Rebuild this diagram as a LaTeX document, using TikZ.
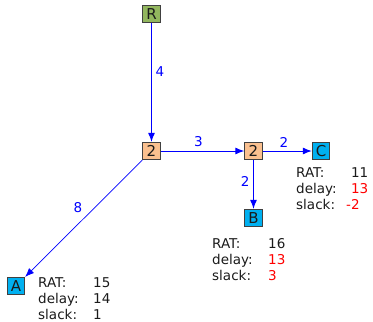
\documentclass[tikz,border=0pt]{standalone}
\usepackage{fontspec}
\setmainfont{DejaVu Sans}
\usetikzlibrary{arrows.meta}
\definecolor{rootgreen}{RGB}{146,182,94}
\definecolor{gateorange}{RGB}{250,192,143}
\definecolor{sinkblue}{RGB}{0,176,240}
\definecolor{boxline}{RGB}{64,64,64}
\definecolor{textgray}{RGB}{26,26,26}
\begin{document}
\begin{tikzpicture}[x=1pt,y=-1pt,
    font=\fontsize{13.5}{16}\selectfont, text=textgray,
    box/.style={draw=boxline, line width=0.8pt, minimum size=17.5pt, inner sep=0pt,
        font=\fontsize{15}{18}\selectfont},
    root/.style={box, fill=rootgreen},
    gate/.style={box, fill=gateorange},
    sink/.style={box, fill=sinkblue},
    wire/.style={-{Latex[length=9pt,width=7pt]}, blue, line width=1pt},
    wlabel/.style={text=blue, inner sep=3.5pt},
    info/.style={anchor=base west, inner sep=0pt}]
    \useasboundingbox (0,0) rectangle (373,322);
    % Draw the tree nodes
    \node[root] (R) at (151.5,14) {R};
    \node[gate] (g1) at (151.5,151) {2};
    \node[gate] (g2) at (253.5,151) {2};
    \node[sink] (C) at (321,151) {C};
    \node[sink] (B) at (253.5,218) {B};
    \node[sink] (A) at (16,286) {A};
    % Draw the wires
    \draw[wire] (R) -- node[wlabel, right, pos=.41] {4} (g1);
    \draw[wire] (g1) -- node[wlabel, above, pos=.45] {3} (g2);
    \draw[wire] (g2) -- node[wlabel, above, pos=.43] {2} (C);
    \draw[wire] (g2) -- node[wlabel, left, pos=.43] {2} (B);
    \draw[wire, line width=0.7pt] (g1) -- node[wlabel, above left, pos=.48] {8} (A);
    % Timing of the sinks
    \node[info] (infoA) at (38,287) {\begin{tabular}[t]{@{}p{55pt}@{}l@{}}
        RAT: & 15\\ delay: & 14\\ slack: & 1\end{tabular}};
    \node[info] (infoB) at (212,248) {\begin{tabular}[t]{@{}p{56pt}@{}l@{}}
        RAT: & 16\\ delay: & \textcolor{red}{13}\\ slack: & \textcolor{red}{3}\end{tabular}};
    \node[info] (infoC) at (296,177) {\begin{tabular}[t]{@{}p{50pt}@{}l@{}}
        RAT: & \phantom{-}11\\ delay: & \textcolor{red}{\phantom{-}13}\\ slack: & \textcolor{red}{-2}\end{tabular}};
\end{tikzpicture}
\end{document}
